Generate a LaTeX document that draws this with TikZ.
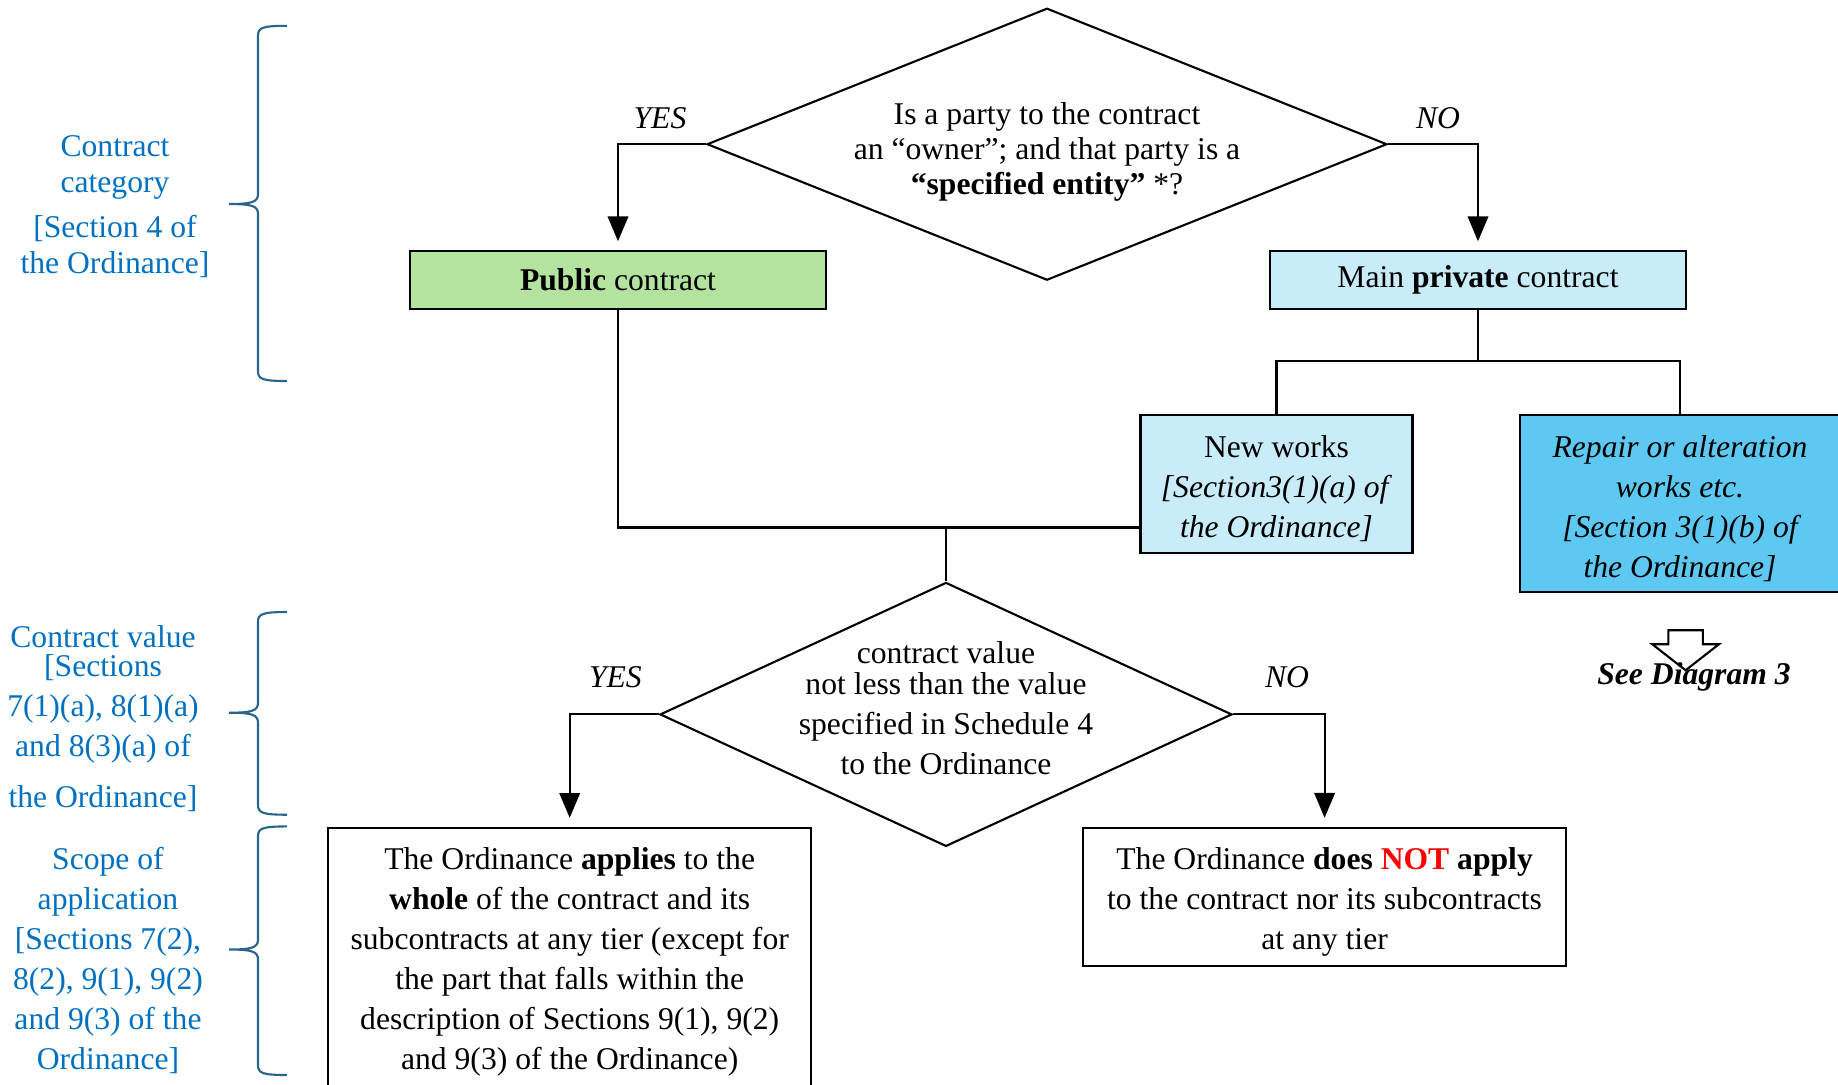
\documentclass[tikz,border=0pt]{standalone}
\usepackage{fontspec}
\setmainfont{Liberation Serif}
\usepackage{xcolor}
\usepackage{tikz}
\usetikzlibrary{shapes.geometric}
\usetikzlibrary{shapes.arrows}
\usetikzlibrary{arrows}

\definecolor{pubgreen}{RGB}{180,227,160}
\definecolor{privblue}{RGB}{200,236,250}
\definecolor{repblue}{RGB}{93,200,242}
\definecolor{sideblue}{RGB}{0,112,192}
\definecolor{bracecol}{RGB}{40,100,140}

% extra room above the first line of a box
\newcommand{\topstrut}{\rule{0pt}{9pt}}

% curly brace on the left: top, tip, bottom
\newcommand{\sidebrace}[3]{%
  \draw[sidebrace] (2.87,#1) .. controls (2.62,#1) and (2.58,#1-0.02) .. (2.58,#1-0.10)
    -- (2.58,#2+0.10) .. controls (2.58,#2+0.02) and (2.52,#2) .. (2.29,#2)
    .. controls (2.52,#2) and (2.58,#2-0.02) .. (2.58,#2-0.10)
    -- (2.58,#3+0.10) .. controls (2.58,#3+0.02) and (2.62,#3) .. (2.87,#3);}

\begin{document}
\fontsize{9}{11.4}\selectfont
\begin{tikzpicture}[>=triangle 45,
    decision/.style={diamond,draw,line width=0.6pt,inner sep=0pt},
    box/.style={rectangle,draw,line width=0.6pt,align=center,inner sep=2pt},
    yesno/.style={font=\itshape},
    side/.style={align=center,text=sideblue},
    link/.style={line width=0.6pt},
    arr/.style={link,->,shorten >=2.5pt},
    sidebrace/.style={draw=bracecol,line width=0.6pt}]
    \path[use as bounding box,fill=white] (0,0) rectangle (18.38,-10.84);

    % first question
    \node[decision,minimum width=6.80cm,minimum height=2.72cm] (owner) at (10.47,-1.442) {};
    \node[font=\fontsize{9}{10}\selectfont,align=center] (ownertext) at (10.47,-1.517)
      {Is a party to the contract\\an “owner”; and that party is a\\\textbf{“specified entity”} *?};
    \node[yesno] (yes1) at (6.60,-1.18) {YES};
    \node[yesno] (no1) at (14.38,-1.18) {NO};

    % contract category
    \node[box,fill=pubgreen,minimum width=4.16cm,minimum height=0.58cm] (pub) at (6.18,-2.80) {\textbf{Public} contract};
    \node[box,fill=privblue,minimum width=4.16cm,minimum height=0.58cm] (priv) at (14.78,-2.80) {Main \textbf{private} contract};
    \node[box,fill=privblue,minimum width=2.72cm,minimum height=1.38cm] (nw) at (12.765,-4.84)
      {\topstrut New works\\\textit{[Section3(1)(a) of}\\\textit{the Ordinance]}};
    \node[box,fill=repblue,font=\itshape,minimum width=3.20cm,minimum height=1.77cm] (rep) at (16.80,-5.035)
      {\topstrut Repair or alteration\\works etc.\\{[}Section 3(1)(b) of\\the Ordinance]};
    \node[single arrow,draw,line width=0.6pt,rotate=-90,minimum height=0.40cm,inner xsep=0pt,inner ysep=0.1625cm,
      single arrow head extend=0.16cm,single arrow tip angle=104] (seearr) at (16.856,-6.435) {};
    \node[font=\bfseries\itshape] (seetext) at (16.94,-6.764) {See Diagram 3};

    % second question
    \node[decision,minimum width=5.72cm,minimum height=2.64cm] (value) at (9.46,-7.144) {};
    \node[align=center] (valuetext) at (9.46,-7.082)
      {contract value\\[-2.7pt]not less than the value\\specified in Schedule 4\\to the Ordinance};
    \node[yesno] (yes2) at (6.154,-6.775) {YES};
    \node[yesno] (no2) at (12.87,-6.775) {NO};

    % scope
    \node[box,minimum width=4.83cm,minimum height=2.594cm] (app) at (5.697,-9.573)
      {\topstrut The Ordinance \textbf{applies} to the\\\textbf{whole} of the contract and its\\subcontracts at any tier (except for\\the part that falls within the\\description of Sections 9(1), 9(2)\\and 9(3) of the Ordinance)};
    \node[box,minimum width=4.83cm,minimum height=1.383cm] (notapp) at (13.246,-8.967)
      {\topstrut The Ordinance \textbf{does \textcolor{red}{NOT} apply}\\to the contract nor its subcontracts\\at any tier};

    % side notes
    \node[side,font=\fontsize{9}{10.2}\selectfont] (catlabel) at (1.15,-2.067)
      {Contract\\category\\[2.8pt]{[}Section 4 of\\the Ordinance]};
    \node[side] (vallabel) at (1.03,-7.185)
      {Contract value\\[-3pt]{[}Sections\\7(1)(a), 8(1)(a)\\and 8(3)(a) of\\[3pt]the Ordinance]};
    \node[side] (scopelabel) at (1.08,-9.605)
      {Scope of\\application\\{[}Sections 7(2),\\8(2), 9(1), 9(2)\\and 9(3) of the\\Ordinance]};
    \sidebrace{-0.258}{-2.04}{-3.81}
    \sidebrace{-6.12}{-7.127}{-8.147}
    \sidebrace{-8.264}{-9.495}{-10.75}

    % connectors
    \coordinate (split) at (14.78,-3.61);
    \coordinate (join) at (9.46,-5.275);
    \draw[arr] (owner.west) -| (pub.north);
    \draw[arr] (owner.east) -| (priv.north);
    \draw[link] (priv.south) -- (split);
    \draw[link] (nw.north) |- (split) -| (rep.north);
    \draw[link] (pub.south) |- (join) -- (join -| nw.west);
    \draw[link] (join) -- (value.north);
    \draw[arr] (value.west) -| (app.north);
    \draw[arr] (value.east) -| (notapp.north);
\end{tikzpicture}
\end{document}
